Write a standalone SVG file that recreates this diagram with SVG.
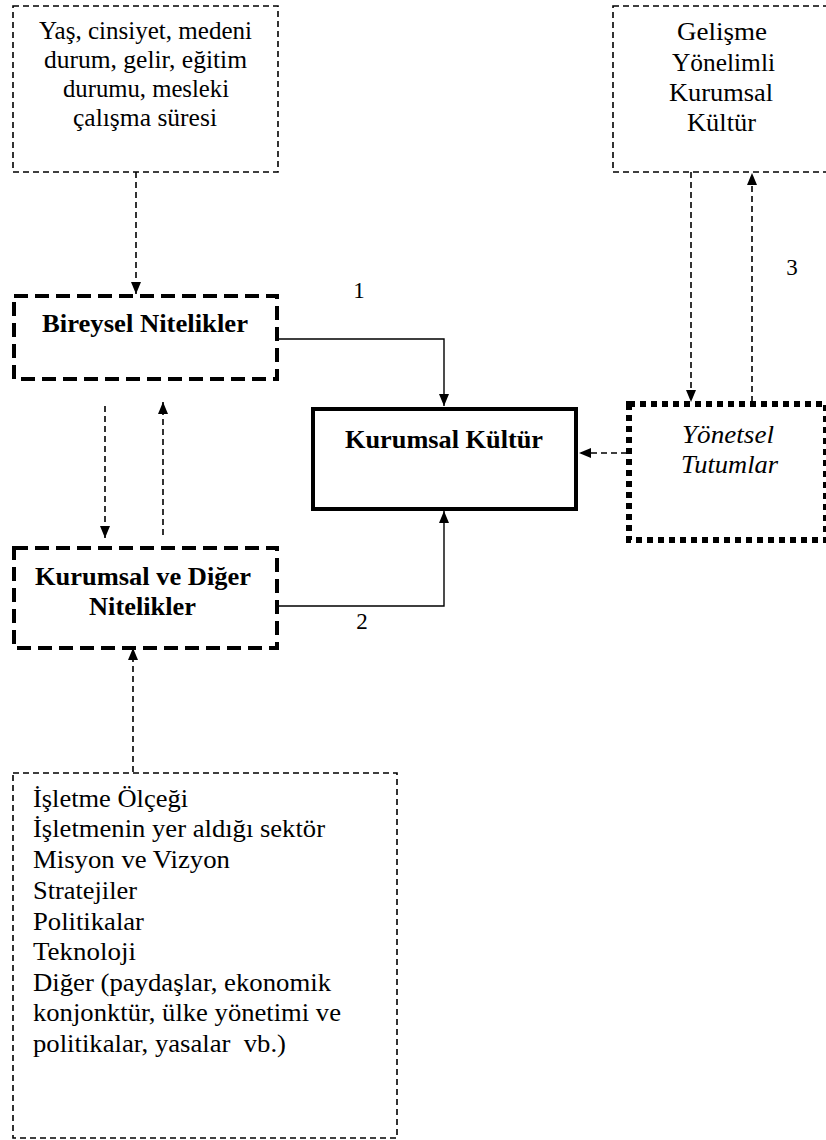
<svg xmlns="http://www.w3.org/2000/svg" width="826" height="1140" viewBox="0 0 826 1140">
<defs>
<style>
text{font-family:'Liberation Serif','Times New Roman','DejaVu Serif',serif;font-size:25px;fill:#000}
.b{font-weight:bold;font-size:26px}
.i{font-style:italic}
.n{font-size:23px}
.thin{fill:none;stroke:#000;stroke-width:1.6;stroke-dasharray:6 4}
.thick{fill:none;stroke:#000;stroke-width:4;stroke-dasharray:14 7}
.dot{fill:none;stroke:#000;stroke-width:6;stroke-dasharray:6 5}
.solid{fill:none;stroke:#000;stroke-width:1.4}
.dash{fill:none;stroke:#000;stroke-width:1.6;stroke-dasharray:6 4}
</style>
<marker id="ah" viewBox="0 0 12 10" refX="12" refY="5" markerWidth="12" markerHeight="10" markerUnits="userSpaceOnUse" orient="auto">
<path d="M0,0 L12,5 L0,10 z" fill="#000"/>
</marker>
</defs>
<rect width="826" height="1140" fill="#fff"/>
<g font-family="Liberation Serif, Times New Roman, DejaVu Serif, serif" lengthAdjust="spacingAndGlyphs">
<g id="demografik">
<rect class="thin" x="13" y="6" width="265" height="166"/>
<text x="39" y="39" textLength="213" lengthAdjust="spacingAndGlyphs">Yaş, cinsiyet, medeni</text>
<text x="44" y="68" textLength="203" lengthAdjust="spacingAndGlyphs">durum, gelir, eğitim</text>
<text x="63" y="97" textLength="166" lengthAdjust="spacingAndGlyphs">durumu, mesleki</text>
<text x="73" y="126" textLength="144" lengthAdjust="spacingAndGlyphs">çalışma süresi</text>
</g>
<g id="gelisme">
<rect class="thin" x="613" y="6" width="230" height="166"/>
<text x="677" y="40" textLength="90" lengthAdjust="spacingAndGlyphs">Gelişme</text>
<text x="672" y="71" textLength="103" lengthAdjust="spacingAndGlyphs">Yönelimli</text>
<text x="669" y="101" textLength="104" lengthAdjust="spacingAndGlyphs">Kurumsal</text>
<text x="687" y="131" textLength="69" lengthAdjust="spacingAndGlyphs">Kültür</text>
</g>
<g id="bireysel">
<rect class="thick" x="14" y="296" width="263" height="83"/>
<text class="b" x="42" y="332" textLength="206" lengthAdjust="spacingAndGlyphs">Bireysel Nitelikler</text>
</g>
<g id="kurumsal-kultur">
<rect x="313" y="409" width="263" height="100" fill="none" stroke="#000" stroke-width="4"/>
<text class="b" x="345" y="448" textLength="198" lengthAdjust="spacingAndGlyphs">Kurumsal Kültür</text>
</g>
<g id="yonetsel">
<rect class="dot" x="629" y="404" width="197" height="136"/>
<text class="i" x="682" y="443" textLength="92" lengthAdjust="spacingAndGlyphs">Yönetsel</text>
<text class="i" x="681" y="473" textLength="97" lengthAdjust="spacingAndGlyphs">Tutumlar</text>
</g>
<g id="kurumsal-diger">
<rect class="thick" x="14" y="548" width="263" height="100"/>
<text class="b" x="35" y="585" textLength="216" lengthAdjust="spacingAndGlyphs">Kurumsal ve Diğer</text>
<text class="b" x="89" y="615" textLength="107" lengthAdjust="spacingAndGlyphs">Nitelikler</text>
</g>
<g id="isletme">
<rect class="thin" x="13" y="773" width="384" height="365"/>
<text x="33" y="807" textLength="155" lengthAdjust="spacingAndGlyphs">İşletme Ölçeği</text>
<text x="33" y="837" textLength="292" lengthAdjust="spacingAndGlyphs">İşletmenin yer aldığı sektör</text>
<text x="33" y="868" textLength="197" lengthAdjust="spacingAndGlyphs">Misyon ve Vizyon</text>
<text x="33" y="899" textLength="104" lengthAdjust="spacingAndGlyphs">Stratejiler</text>
<text x="33" y="930" textLength="111" lengthAdjust="spacingAndGlyphs">Politikalar</text>
<text x="33" y="960" textLength="103" lengthAdjust="spacingAndGlyphs">Teknoloji</text>
<text x="33" y="991" textLength="298" lengthAdjust="spacingAndGlyphs">Diğer (paydaşlar, ekonomik</text>
<text x="33" y="1021" textLength="308" lengthAdjust="spacingAndGlyphs">konjonktür, ülke yönetimi ve</text>
<text x="33" y="1052" textLength="253" lengthAdjust="spacingAndGlyphs" xml:space="preserve">politikalar, yasalar  vb.)</text>
</g>
<g id="connectors">
<path class="dash" d="M136,172 V294" marker-end="url(#ah)"/>
<path class="solid" d="M277,339 H444 V406" marker-end="url(#ah)"/>
<path class="solid" d="M277,606 H444 V511" marker-end="url(#ah)"/>
<path class="dash" d="M105,406 V538" marker-end="url(#ah)"/>
<path class="dash" d="M163,535 V402" marker-end="url(#ah)"/>
<path class="dash" d="M133,772 V648" marker-end="url(#ah)"/>
<path class="dash" d="M691,172 V402" marker-end="url(#ah)"/>
<path class="dash" d="M752,402 V173" marker-end="url(#ah)"/>
<path class="dash" d="M627,453 H579" marker-end="url(#ah)"/>
<text class="n" text-anchor="middle" x="359" y="298">1</text>
<text class="n" text-anchor="middle" x="362" y="629">2</text>
<text class="n" text-anchor="middle" x="792" y="275">3</text>
</g>
</g>
</svg>
